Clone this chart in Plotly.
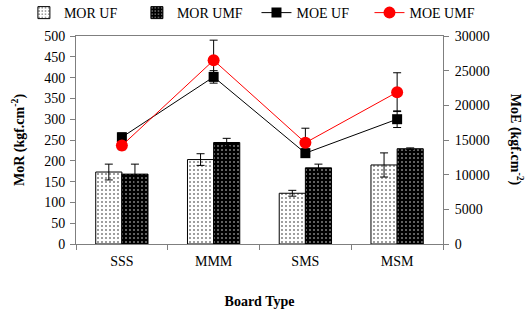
import plotly.graph_objects as go

categories = ["SSS", "MMM", "SMS", "MSM"]
mor_uf = [173, 203, 122, 190]
mor_uf_err = [19, 14, 7, 29]
mor_umf = [168, 244, 183, 229]
mor_umf_err = [24, 10, 9, 2]
moe_uf = [15400, 24100, 13100, 18000]
moe_uf_err = [600, 900, 600, 1200]
moe_umf = [14200, 26500, 14600, 21900]
moe_umf_err = [600, 2900, 2100, 2800]

FONT = "Liberation Serif"
FS = 14

fig = go.Figure()
fig.add_trace(go.Bar(
    x=categories, y=mor_uf, name="MOR UF", legend="legend",
    marker=dict(color="white", line=dict(color="black", width=1),
                pattern=dict(shape=".", fgcolor="black", bgcolor="white", size=4, solidity=0.2)),
    error_y=dict(type="data", array=mor_uf_err, color="black", thickness=1, width=4),
))
fig.add_trace(go.Bar(
    x=categories, y=mor_umf, name="MOR UMF", legend="legend",
    marker=dict(color="black", line=dict(color="black", width=1),
                pattern=dict(shape=".", fgcolor="white", bgcolor="black", size=4, solidity=0.2)),
    error_y=dict(type="data", array=mor_umf_err, color="black", thickness=1, width=4),
))
fig.add_trace(go.Scatter(
    x=categories, y=moe_uf, name="MOE UF", yaxis="y2", mode="lines+markers", legend="legend2",
    line=dict(color="black", width=1),
    marker=dict(symbol="square", size=10, color="black"),
    error_y=dict(type="data", array=moe_uf_err, color="black", thickness=1, width=4),
))
fig.add_trace(go.Scatter(
    x=categories, y=moe_umf, name="MOE UMF", yaxis="y2", mode="lines+markers", legend="legend2",
    line=dict(color="red", width=1),
    marker=dict(symbol="circle", size=12, color="red"),
    error_y=dict(type="data", array=moe_umf_err, color="black", thickness=1, width=4),
))

leg_common = dict(orientation="h", yanchor="middle", y=0.958,
                  xref="container", yref="container", xanchor="left",
                  font=dict(family=FONT, size=FS),
                  itemwidth=30, entrywidth=68, entrywidthmode="pixels",
                  tracegroupgap=0, bgcolor="rgba(0,0,0,0)")

fig.update_layout(
    width=531, height=310,
    margin=dict(l=76, r=88, t=36, b=66, autoexpand=False),
    paper_bgcolor="white", plot_bgcolor="white",
    font=dict(family=FONT, size=FS, color="black"),
    barmode="group", bargap=0.43, bargroupgap=0,
    showlegend=True,
    legend=dict(x=0.045, **leg_common),
    legend2=dict(x=0.483, **leg_common),
    xaxis=dict(
        showline=True, linecolor="#7f7f7f", linewidth=1, mirror=True,
        ticks="outside", tickson="boundaries", ticklen=5, tickcolor="#7f7f7f",
        showgrid=False, tickfont=dict(family=FONT, size=FS), ticklabelstandoff=4,
        title=dict(text="<b>Board Type</b>", font=dict(family=FONT, size=FS), standoff=28),
    ),
    yaxis=dict(
        range=[0, 500], dtick=50, showline=True, linecolor="#7f7f7f", linewidth=1,
        ticks="outside", ticklen=5, tickcolor="#7f7f7f", showgrid=False, zeroline=False,
        tickfont=dict(family=FONT, size=FS), ticklabelstandoff=2,
        title=dict(text="<b>MoR (kgf.cm<sup>-2</sup>)</b>", font=dict(family=FONT, size=FS), standoff=16),
    ),
    yaxis2=dict(
        range=[0, 30000], dtick=5000, overlaying="y", side="right", tickformat="d",
        showline=True, linecolor="#7f7f7f", linewidth=1,
        ticks="outside", ticklen=5, tickcolor="#7f7f7f", showgrid=False, zeroline=False,
        tickfont=dict(family=FONT, size=FS), ticklabelstandoff=3,
    ),
    annotations=[dict(
        text="<b>MoE (kgf.cm<sup>-2</sup>)</b>", textangle=90, showarrow=False,
        xref="paper", yref="paper", x=1.202, y=0.5, xanchor="center", yanchor="middle",
        font=dict(family=FONT, size=FS),
    )],
)

fig.write_html("out.html", config={"displayModeBar": False},
               post_script="document.body.style.margin='0';")
